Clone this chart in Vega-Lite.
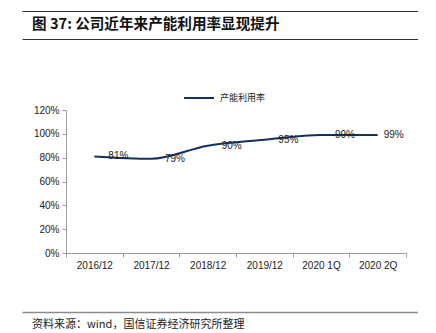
{
  "$schema": "https://vega.github.io/schema/vega-lite/v6.json",
  "padding": {"left": 22, "top": 11, "right": 0, "bottom": 0},
  "spacing": 10,
  "background": "white",
  "config": {"font": "Liberation Sans", "view": {"stroke": null}},
  "resolve": {"legend": {"color": "independent"}, "scale": {"color": "independent"}},
  "vconcat": [
    {
      "width": 396,
      "height": 28,
      "data": {"values": [{"t": "图 37: 公司近年来产能利用率显现提升", "pos": 0, "mid": 0.5}]},
      "resolve": {"axis": {"x": "independent"}},
      "encoding": {
        "y": {"field": "mid", "type": "quantitative", "scale": {"domain": [0, 1], "nice": false, "zero": false}, "axis": null}
      },
      "layer": [
        {
          "mark": {"type": "text", "align": "left", "baseline": "middle", "dx": 10, "font": "Noto Sans CJK SC", "fontSize": 14.6, "fontWeight": "bold", "color": "#111111"},
          "encoding": {
            "x": {"field": "pos", "type": "quantitative", "scale": {"domain": [0, 1], "nice": false},
                  "axis": {"orient": "top", "domain": true, "domainColor": "#333333", "domainWidth": 1.2, "ticks": false, "labels": false, "grid": false, "title": null}},
            "text": {"field": "t"}
          }
        },
        {
          "mark": {"type": "text", "opacity": 0},
          "encoding": {
            "x": {"field": "pos", "type": "quantitative",
                  "axis": {"orient": "bottom", "domain": true, "domainColor": "#333333", "domainWidth": 1.2, "ticks": false, "labels": false, "grid": false, "title": null}},
            "text": {"value": " "}
          }
        }
      ]
    },
    {
      "width": 384,
      "height": 143,
      "data": {"values": [
        {"period": "2016/12", "rate": 0.81, "series": "产能利用率"},
        {"period": "2017/12", "rate": 0.79, "series": "产能利用率"},
        {"period": "2018/12", "rate": 0.90, "series": "产能利用率"},
        {"period": "2019/12", "rate": 0.95, "series": "产能利用率"},
        {"period": "2020 1Q", "rate": 0.99, "series": "产能利用率"},
        {"period": "2020 2Q", "rate": 0.99, "series": "产能利用率"}
      ]},
      "encoding": {
        "x": {"field": "period", "type": "ordinal", "sort": null,
              "scale": {"type": "band", "paddingInner": 0, "paddingOuter": 0, "range": [44, 384]},
              "axis": {"title": null, "labelAngle": 0, "tickBand": "extent", "grid": false, "domainColor": "#9a9a9a", "tickColor": "#9a9a9a", "tickSize": 4, "labelFontSize": 10, "labelPadding": 3, "labelColor": "#222222", "minExtent": 49, "maxExtent": 49}},
        "y": {"field": "rate", "type": "quantitative",
              "scale": {"domain": [0, 1.2], "nice": false},
              "axis": {"title": null, "offset": -44, "values": [0, 0.2, 0.4, 0.6, 0.8, 1.0, 1.2], "format": ".0%", "grid": false, "domainColor": "#9a9a9a", "tickColor": "#9a9a9a", "tickSize": 4, "labelFontSize": 10, "labelPadding": 3, "labelColor": "#222222"}}
      },
      "layer": [
        {
          "mark": {"type": "line", "interpolate": "monotone", "strokeWidth": 2},
          "encoding": {
            "color": {"field": "series", "type": "nominal",
                      "scale": {"range": ["#12305e"]},
                      "legend": {"title": null, "orient": "none", "legendX": 128, "legendY": -61, "padding": 33, "symbolType": "stroke", "symbolSize": 900, "symbolStrokeWidth": 2, "labelFont": "Noto Sans CJK SC", "labelFontSize": 9, "labelColor": "#222222", "labelOffset": 5}}
          }
        },
        {
          "transform": [{"filter": "datum.period != '2020 2Q'"}],
          "mark": {"type": "text", "align": "left", "baseline": "middle", "dx": 14, "fontSize": 10, "color": "#222222"},
          "encoding": {"text": {"field": "rate", "type": "quantitative", "format": ".0%"}}
        },
        {
          "transform": [{"filter": "datum.period == '2020 2Q'"}],
          "mark": {"type": "text", "align": "left", "baseline": "middle", "dx": 6, "fontSize": 10, "color": "#222222"},
          "encoding": {"text": {"field": "rate", "type": "quantitative", "format": ".0%"}}
        }
      ]
    },
    {
      "width": 396,
      "height": 26,
      "data": {"values": [{"t": "资料来源：wind，国信证券经济研究所整理", "pos": 0, "mid": 0.5}]},
      "mark": {"type": "text", "align": "left", "baseline": "middle", "dx": 10, "font": "Noto Sans CJK SC", "fontSize": 11, "color": "#222222"},
      "encoding": {
        "x": {"field": "pos", "type": "quantitative", "scale": {"domain": [0, 1], "nice": false},
              "axis": {"orient": "top", "domain": true, "domainColor": "#8c8c8c", "domainWidth": 1.6, "ticks": false, "labels": false, "grid": false, "title": null}},
        "y": {"field": "mid", "type": "quantitative", "scale": {"domain": [0, 1], "nice": false, "zero": false}, "axis": null},
        "text": {"field": "t"}
      }
    }
  ]
}
